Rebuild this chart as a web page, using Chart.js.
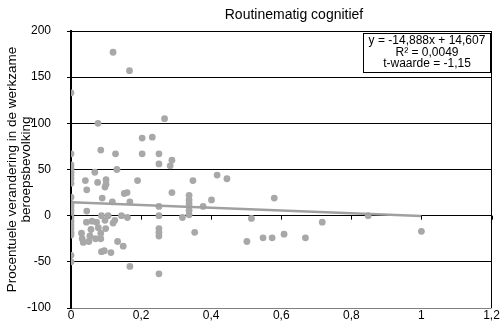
<!DOCTYPE html>
<html>
<head>
<meta charset="utf-8">
<script src="https://cdn.jsdelivr.net/npm/chart.js@4.4.1/dist/chart.umd.min.js"></script>
<style>
    body { margin: 0; background: #fff; }
    #wrap { width: 503px; height: 322px; }
</style>
</head>
<body>
<div id="wrap"><canvas id="chart" width="503" height="322"></canvas></div>
<script>
// share of routine cognitive tasks (x) vs % change in employed workforce (y)
const xValues = [
    0, 0, 0, 0, 0, 0, 0, 0, 0, 0, 0, 0, 0, 0, 0, 0, 0, 0, 0, 0, 0,
    0.12, 0.167, 0.267, 0.077, 0.203, 0.232, 0.085, 0.127, 0.203, 0.251,
    0.251, 0.288, 0.283, 0.068, 0.131, 0.041, 0.076, 0.1, 0.1, 0.19,
    0.348, 0.417, 0.445, 0.045, 0.097, 0.152, 0.16, 0.288, 0.337, 0.337,
    0.337, 0.337, 0.337, 0.401, 0.089, 0.118, 0.168, 0.251, 0.377, 0.045,
    0.087, 0.106, 0.144, 0.161, 0.251, 0.318, 0.044, 0.06, 0.073, 0.097,
    0.125, 0.12, 0.057, 0.078, 0.099, 0.03, 0.032, 0.054, 0.051, 0.07,
    0.085, 0.085, 0.035, 0.133, 0.149, 0.087, 0.095, 0.114, 0.168, 0.251,
    0.251, 0.251, 0.353, 0.251, 0.58, 0.515, 0.502, 0.548, 0.574, 0.608,
    0.669, 0.717, 0.848, 1
];
const yValues = [
    133, 67, 55, 51, 47, 44, 40, 35, 20, 13, 10, 6, 2, -2, -6, -10, -14, -18, -21, -43, -50,
    177, 157, 105, 100, 84, 85, 71, 67, 67, 67,
    56, 60, 54, 47, 50, 38, 36, 39, 34, 38,
    38, 44, 40, 28, 31, 24, 25, 25, 22, 17,
    13, 6, 1, 17, 19, 15, 15, 10, 10, 5,
    0, 0, 0, -2, 0, -2, -7, -6, -7, -5,
    -5, -8, -15, -13, -14, -19, -25, -22, -28, -25,
    -19, -25, -29, -28, -33, -39, -38, -40, -55, -14,
    -18, -22, -18, -63, 19, -3, -28, -24, -24, -20,
    -24, -7, 0, -17
];
// trend line end points (y = -14,888x + 14,607)
const trendX = [0, 1];
const trendY = [14.607, -0.281];

const xTicks = [0, 0.2, 0.4, 0.6, 0.8, 1, 1.2];
const yTicks = [-100, -50, 0, 50, 100, 150, 200];
const chartTitle = 'Routinematig cognitief';
const yTitle = ['Procentuele verandering in de werkzame', 'beroepsbevolking'];
const equationLines = ['y = -14,888x + 14,607', 'R\u00b2 = 0,0049', 't-waarde = -1,15'];

const FONT = 'Liberation Sans, Arial, sans-serif';

const points = xValues.map((x, i) => ({ x: x, y: yValues[i] }));
const trend = trendX.map((x, i) => ({ x: x, y: trendY[i] }));

const fmt = v => String(Math.round(v * 10) / 10).replace('.', ',');

// title, tick marks on the zero line and the equation box
const extras = {
    id: 'extras',
    afterDraw(chart) {
        const ctx = chart.ctx;
        const xs = chart.scales.x, ys = chart.scales.y;
        const y0 = ys.getPixelForValue(0);
        ctx.save();
        ctx.strokeStyle = '#000';
        ctx.lineWidth = 1;
        xTicks.forEach(v => {
            const px = Math.round(xs.getPixelForValue(v)) + 0.5;
            ctx.beginPath();
            ctx.moveTo(px, y0);
            ctx.lineTo(px, y0 + 4);
            ctx.stroke();
        });

        ctx.fillStyle = '#000';
        ctx.font = '14px ' + FONT;
        ctx.textAlign = 'center';
        ctx.textBaseline = 'middle';
        ctx.fillText(chartTitle, 294, 15);

        ctx.fillStyle = '#fff';
        ctx.fillRect(363.5, 33.5, 127, 39);
        ctx.strokeRect(363.5, 33.5, 127, 39);
        ctx.fillStyle = '#000';
        ctx.font = '12px ' + FONT;
        equationLines.forEach((t, i) => ctx.fillText(t, 427, 41 + i * 11.5));
        ctx.restore();
    }
};

new Chart(document.getElementById('chart').getContext('2d'), {
    type: 'scatter',
    data: {
        datasets: [{
            type: 'line',
            data: trend,
            borderColor: '#a0a0a0',
            borderWidth: 2.5,
            pointRadius: 0,
            fill: false
        }, {
            data: points,
            backgroundColor: '#a8a8a8',
            borderColor: '#a8a8a8',
            borderWidth: 0,
            pointRadius: 3.4
        }]
    },
    options: {
        responsive: false,
        animation: false,
        events: [],
        layout: {
            padding: { top: 31, right: 11.5, left: 0, bottom: 0 }
        },
        plugins: {
            legend: { display: false },
            tooltip: { enabled: false }
        },
        scales: {
            x: {
                type: 'linear',
                min: 0,
                max: 1.2,
                afterFit: s => { s.height = 14; },
                afterBuildTicks: s => { s.ticks = xTicks.map(v => ({ value: v })); },
                ticks: {
                    color: '#000',
                    font: { family: FONT, size: 12 },
                    padding: 0,
                    maxRotation: 0,
                    callback: v => fmt(v)
                },
                grid: {
                    drawTicks: false,
                    color: c => (c.tick && c.tick.value === 1.2) ? '#000' : 'rgba(0,0,0,0)'
                },
                border: { display: false }
            },
            y: {
                type: 'linear',
                min: -100,
                max: 200,
                afterFit: s => {
                    s.width = 71;
                    s.paddingTop = 0;
                    s.paddingBottom = 0;
                },
                afterBuildTicks: s => { s.ticks = yTicks.map(v => ({ value: v })); },
                ticks: {
                    color: '#000',
                    font: { family: FONT, size: 12 },
                    padding: 16,
                    callback: v => String(v)
                },
                grid: {
                    color: c => (c.tick && c.tick.value === -100) ? '#808080' : '#000',
                    tickLength: 4,
                    tickColor: '#000'
                },
                border: { display: true, color: '#000', width: 2 },
                title: {
                    display: true,
                    text: yTitle,
                    color: '#000',
                    font: { family: FONT, size: 13.5, lineHeight: 1 },
                    padding: { top: 6, bottom: 0 }
                }
            }
        }
    },
    plugins: [extras]
});
</script>
</body>
</html>
